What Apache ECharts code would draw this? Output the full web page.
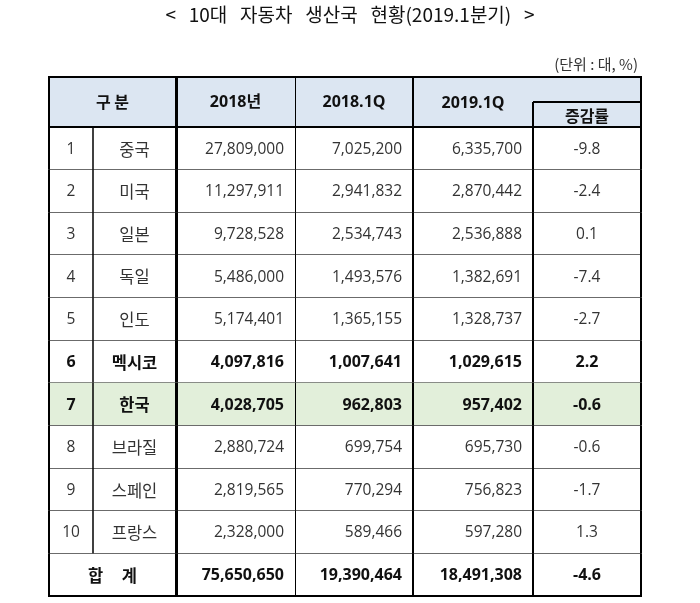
<!DOCTYPE html>
<html><head><meta charset="utf-8">
<script src="https://cdn.jsdelivr.net/npm/echarts@6/dist/echarts.min.js"></script>
<style>html,body{margin:0;padding:0;background:#fff}#c{width:700px;height:603px}</style>
</head><body><div id="c"></div>
<script>
// ---- data ----
const titleText = '<   10대   자동차   생산국   현황(2019.1분기)   >';
const unitText = '(단위 : 대, %)';
const headerLabels = ['구 분', '2018년', '2018.1Q', '2019.1Q', '증감률'];
const ranks = ['1', '2', '3', '4', '5', '6', '7', '8', '9', '10'];
const countries = ['중국', '미국', '일본', '독일', '인도', '멕시코', '한국', '브라질', '스페인', '프랑스'];
const prod2018 = [27809000, 11297911, 9728528, 5486000, 5174401, 4097816, 4028705, 2880724, 2819565, 2328000];
const prod2018Q1 = [7025200, 2941832, 2534743, 1493576, 1365155, 1007641, 962803, 699754, 770294, 589466];
const prod2019Q1 = [6335700, 2870442, 2536888, 1382691, 1328737, 1029615, 957402, 695730, 756823, 597280];
const changeRate = [-9.8, -2.4, 0.1, -7.4, -2.7, 2.2, -0.6, -0.6, -1.7, 1.3];
const totalLabel = '합     계';
const totalValues = [75650650, 19390464, 18491308];
const totalRate = -4.6;
const boldRanks = ['6', '7'];
const highlightRank = '7';

// ---- layout / style ----
const colEdges = [0, 44, 127, 246, 364, 484, 592];
const colLineW = [2, 1.5, 3, 1, 2, 2, 2];
const headerFill = '#dce6f2';
const highlightFill = '#e2efda';
const rowLine = '#6b6b6b';
const FONT = '"Open Sans", "Noto Sans CJK KR", sans-serif';
const KFONT = '"Noto Sans CJK KR", sans-serif';
const fmt = v => v.toLocaleString('en-US');

function snap(v, w) { return (Math.round(w) % 2 === 1) ? Math.floor(v) + 0.5 : Math.round(v); }
function line(x1, y1, x2, y2, w, c) {
  if (x1 === x2) { x1 = x2 = snap(x1, w); } else { y1 = y2 = snap(y1, w); }
  return { type: 'line', shape: { x1, y1, x2, y2 }, style: { stroke: c || '#000', lineWidth: w } };
}
function text(t, x, y, align, font, fill) {
  return { type: 'text', style: { text: t, x, y, align, verticalAlign: 'middle', font, fill: fill || '#262626' } };
}

const nRows = countries.length + 1;

function headerRender(params, api) {
  const xs = colEdges.map(e => api.coord([e, 0])[0]);
  const top = api.coord([0, 0])[1], mid = api.coord([0, 1])[1], bot = api.coord([0, 2])[1];
  const cy = (top + bot) / 2;
  const f = 'bold 16px ' + FONT;
  const ch = [];
  ch.push({ type: 'rect', shape: { x: xs[0], y: top, width: xs[6] - xs[0], height: bot - top }, style: { fill: headerFill } });
  ch.push(text(headerLabels[0], (xs[0] + xs[2]) / 2, cy, 'center', 'bold 16px ' + KFONT, '#111'));
  ch.push(text(headerLabels[1], (xs[2] + xs[3]) / 2, cy, 'center', f, '#111'));
  ch.push(text(headerLabels[2], (xs[3] + xs[4]) / 2, cy, 'center', f, '#111'));
  ch.push(text(headerLabels[3], (xs[4] + xs[5]) / 2, cy + 1, 'center', f, '#111'));
  ch.push(text(headerLabels[4], (xs[5] + xs[6]) / 2, (mid + bot) / 2 + 1, 'center', 'bold 16px ' + KFONT, '#111'));
  ch.push(line(xs[0], top, xs[6], top, 2));
  ch.push(line(xs[0], bot, xs[6], bot, 2));
  ch.push(line(xs[5], mid, xs[6], mid, 2));
  [2, 3, 4].forEach(k => ch.push(line(xs[k], top, xs[k], bot, colLineW[k])));
  ch.push(line(xs[5], mid, xs[5], bot, colLineW[5]));
  ch.push(line(xs[0], top - 1, xs[0], bot, 2));
  ch.push(line(xs[6], top - 1, xs[6], bot, 2));
  return { type: 'group', children: ch };
}

function bodyRender(params, api) {
  const i = api.value(0);
  const isTotal = i === countries.length;
  const xs = colEdges.map(e => api.coord([e, i])[0]);
  const top = api.coord([0, i])[1], bot = api.coord([0, i + 1])[1];
  const cy = (top + bot) / 2 + 1;
  const bold = isTotal || boldRanks.includes(ranks[i]);
  const nf = (bold ? 'bold 16px ' : '15.5px ') + FONT;
  const kf = (bold ? 'bold 16.5px ' : '16.5px ') + KFONT;
  const col = bold ? '#111' : '#333';
  const ch = [];
  if (!isTotal && ranks[i] === highlightRank) {
    ch.push({ type: 'rect', shape: { x: xs[0], y: top, width: xs[6] - xs[0], height: bot - top }, style: { fill: highlightFill } });
  }
  let vals, rate;
  if (isTotal) {
    ch.push(text(totalLabel, (xs[0] + xs[2]) / 2, cy, 'center', kf, col));
    vals = totalValues; rate = totalRate;
  } else {
    ch.push(text(ranks[i], (xs[0] + xs[1]) / 2, cy, 'center', nf, col));
    ch.push(text(countries[i], (xs[1] + xs[2]) / 2, cy, 'center', kf, col));
    vals = [prod2018[i], prod2018Q1[i], prod2019Q1[i]]; rate = changeRate[i];
  }
  vals.forEach((v, k) => ch.push(text(fmt(v), xs[k + 3] - 11, cy, 'right', nf, col)));
  ch.push(text(rate.toFixed(1), (xs[5] + xs[6]) / 2, cy, 'center', nf, col));
  if (!isTotal) ch.push(line(xs[0], bot, xs[6], bot, 1, rowLine));
  else ch.push(line(xs[0], bot, xs[6], bot, 2));
  const ks = isTotal ? [2, 3, 4, 5] : [1, 2, 3, 4, 5];
  ks.forEach(k => ch.push(line(xs[k], top, xs[k], bot, colLineW[k])));
  ch.push(line(xs[0], top, xs[0], bot + (isTotal ? 1 : 0), 2));
  ch.push(line(xs[6], top, xs[6], bot + (isTotal ? 1 : 0), 2));
  return { type: 'group', children: ch };
}

const chart = echarts.init(document.getElementById('c'), null, { renderer: 'canvas' });
chart.setOption({
  animation: false,
  backgroundColor: '#fff',
  title: [
    { text: titleText, left: 'center', top: 4, padding: 0,
      textStyle: { fontSize: 19, fontWeight: 'normal', fontFamily: KFONT, color: '#111', lineHeight: 22 } },
    { text: unitText, right: 62, top: 54, padding: 0,
      textStyle: { fontSize: 15, fontWeight: 'normal', fontFamily: KFONT, color: '#333', lineHeight: 20 } }
  ],
  grid: [
    { left: 49, width: 592, top: 77, height: 50 },
    { left: 49, width: 592, top: 127, height: 469 }
  ],
  xAxis: [
    { gridIndex: 0, type: 'value', min: 0, max: colEdges[colEdges.length - 1], show: false },
    { gridIndex: 1, type: 'value', min: 0, max: colEdges[colEdges.length - 1], show: false }
  ],
  yAxis: [
    { gridIndex: 0, type: 'value', min: 0, max: 2, inverse: true, show: false },
    { gridIndex: 1, type: 'value', min: 0, max: nRows, inverse: true, show: false }
  ],
  series: [
    { type: 'custom', xAxisIndex: 0, yAxisIndex: 0, data: [[0]], renderItem: headerRender, silent: true, clip: false },
    { type: 'custom', xAxisIndex: 1, yAxisIndex: 1, data: Array.from({ length: nRows }, (_, i) => [i]), renderItem: bodyRender, silent: true, clip: false }
  ]
});
</script>
</body></html>
